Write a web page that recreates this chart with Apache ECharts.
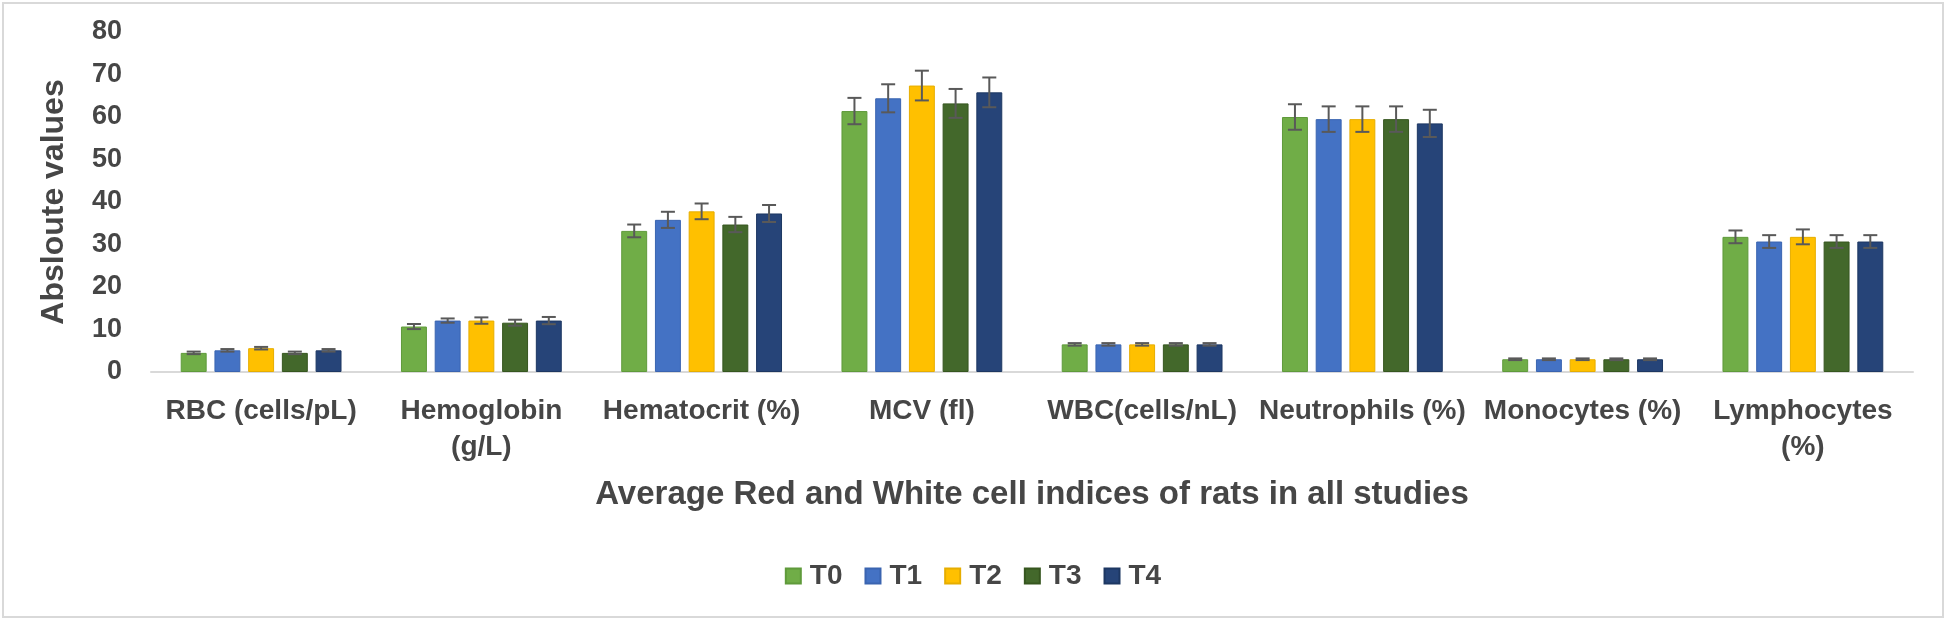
<!DOCTYPE html>
<html>
<head>
<meta charset="utf-8">
<title>Average Red and White cell indices</title>
<script src="https://cdn.jsdelivr.net/npm/echarts@6/dist/echarts.min.js"></script>
<style>
    html, body { margin: 0; padding: 0; background: #fff; }
    #chart { width: 1946px; height: 622px; }
</style>
</head>
<body>
<div id="chart"></div>
<script>
    // categories on the x axis
    const categories = ['RBC (cells/pL)', 'Hemoglobin\n(g/L)', 'Hematocrit (%)', 'MCV (fl)',
        'WBC(cells/nL)', 'Neutrophils (%)', 'Monocytes (%)', 'Lymphocytes\n(%)'];
    const groups = ['T0', 'T1', 'T2', 'T3', 'T4'];

    // mean values per group
    const t0 = [4.5, 10.7, 33.2, 61.4, 6.5, 60.0, 3.0, 31.8];
    const t1 = [5.1, 12.1, 35.8, 64.4, 6.5, 59.5, 3.0, 30.7];
    const t2 = [5.6, 12.1, 37.8, 67.4, 6.5, 59.5, 3.0, 31.8];
    const t3 = [4.5, 11.6, 34.7, 63.2, 6.5, 59.5, 3.0, 30.7];
    const t4 = [5.1, 12.1, 37.3, 65.8, 6.5, 58.5, 3.0, 30.7];

    // error bar half lengths
    const e0 = [0.3, 0.6, 1.5, 3.1, 0.3, 3.0, 0.2, 1.5];
    const e1 = [0.3, 0.5, 1.9, 3.3, 0.3, 3.0, 0.2, 1.5];
    const e2 = [0.3, 0.75, 1.85, 3.5, 0.3, 3.0, 0.2, 1.75];
    const e3 = [0.3, 0.7, 1.8, 3.4, 0.3, 3.0, 0.2, 1.5];
    const e4 = [0.3, 0.85, 2.0, 3.5, 0.3, 3.2, 0.2, 1.5];

    const yTicks = [0, 10, 20, 30, 40, 50, 60, 70, 80];

    const means = [t0, t1, t2, t3, t4];
    const errs = [e0, e1, e2, e3, e4];
    const colors = ['#70AD47', '#4472C4', '#FFC000', '#43682B', '#264478'];
    const borders = ['#5f9a3b', '#3a64b0', '#e6ad00', '#36561f', '#1d3762'];

    const CAT_GAP = 0.27;
    const BAR_GAP = 0.3;
    const textColor = '#464646';
    const font = 'Liberation Sans, Arial, sans-serif';

    function errorRender(si) {
        return function (params, api) {
            const x = api.value(0);
            const lo = api.coord([x, api.value(1)]);
            const hi = api.coord([x, api.value(2)]);
            const catW = api.size([1, 0])[0];
            const groupW = catW * (1 - CAT_GAP);
            const n = groups.length;
            const bw = groupW / (n + (n - 1) * BAR_GAP);
            const cx = hi[0] - groupW / 2 + bw / 2 + si * bw * (1 + BAR_GAP);
            const half = 7;
            const style = { stroke: '#595959', lineWidth: 2 };
            return {
                type: 'group',
                children: [
                    { type: 'line', shape: { x1: cx, y1: lo[1], x2: cx, y2: hi[1] }, style: style },
                    { type: 'line', shape: { x1: cx - half, y1: lo[1], x2: cx + half, y2: lo[1] }, style: style },
                    { type: 'line', shape: { x1: cx - half, y1: hi[1], x2: cx + half, y2: hi[1] }, style: style }
                ]
            };
        };
    }

    const series = [];
    groups.forEach((g, i) => {
        series.push({
            name: g,
            type: 'bar',
            barCategoryGap: (CAT_GAP * 100) + '%',
            barGap: (BAR_GAP * 100) + '%',
            itemStyle: { color: colors[i], borderColor: borders[i], borderWidth: 1 },
            data: means[i]
        });
    });
    groups.forEach((g, i) => {
        series.push({
            name: g,
            type: 'custom',
            z: 5,
            renderItem: errorRender(i),
            encode: { x: 0, y: [1, 2] },
            data: means[i].map((v, k) => [k, v - errs[i][k], v + errs[i][k]])
        });
    });

    const chart = echarts.init(document.getElementById('chart'));
    chart.setOption({
        animation: false,
        backgroundColor: '#fff',
        textStyle: { fontFamily: font },
        graphic: [{
            type: 'rect',
            shape: { x: 3, y: 3, width: 1940, height: 614 },
            style: { fill: 'none', stroke: '#d9d9d9', lineWidth: 2 },
            silent: true
        }],
        legend: {
            data: groups,
            left: 'center',
            top: 557,
            itemWidth: 15,
            itemHeight: 15,
            itemGap: 22,
            icon: 'rect',
            textStyle: {
                fontFamily: font, fontWeight: 'bold', fontSize: 28, color: textColor,
                padding: [0, 0, 0, 4]
            }
        },
        grid: { left: 151, right: 33, top: 32, bottom: 250 },
        xAxis: {
            type: 'category',
            data: categories,
            name: 'Average Red and White cell indices of rats in all studies',
            nameLocation: 'middle',
            nameGap: 106,
            nameTextStyle: { fontFamily: font, fontWeight: 'bold', fontSize: 33, color: textColor },
            axisLine: { lineStyle: { color: '#d9d9d9', width: 2 } },
            axisTick: { show: false },
            axisLabel: {
                interval: 0,
                margin: 21,
                fontFamily: font,
                fontWeight: 'bold',
                fontSize: 28,
                lineHeight: 36,
                color: textColor
            }
        },
        yAxis: {
            type: 'value',
            min: yTicks[0],
            max: yTicks[yTicks.length - 1],
            interval: yTicks[1] - yTicks[0],
            name: 'Absloute values',
            nameLocation: 'middle',
            nameGap: 81,
            nameRotate: 90,
            nameTextStyle: { fontFamily: font, fontWeight: 'bold', fontSize: 32, color: textColor },
            axisLine: { show: false },
            axisTick: { show: false },
            splitLine: { show: false },
            axisLabel: {
                margin: 29,
                fontFamily: font,
                fontWeight: 'bold',
                fontSize: 27,
                color: textColor
            }
        },
        series: series
    });
</script>
</body>
</html>
